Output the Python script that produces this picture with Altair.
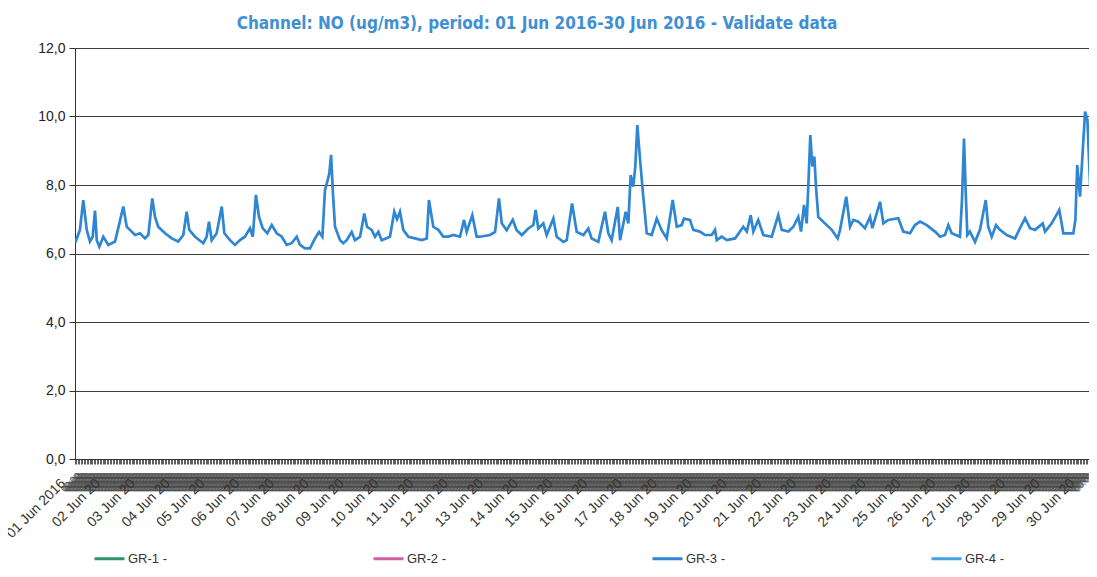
import altair as alt
import pandas as pd

# ---- data (hours since 01 Jun 2016 00:00, NO in ug/m3) ----
hours = [
    0, 3.4, 5.7, 8.1, 10.3, 12.2, 13.8, 15.0, 16.8, 19.5, 23.0,
    27.6, 30.6, 33.3, 35.7, 37.9, 41.4, 44.8,
    48.3, 50.6, 53.3, 55.2, 57.4, 62.1, 66.7, 71.2,
    74.7, 77.0, 78.8, 82.8, 88.5, 90.8, 92.4, 94.3, 97.7, 101.2, 103.0, 106.9, 110.3, 113.8,
    117.2, 120.7, 122.6, 124.8, 126.9, 129.4, 132.6, 135.7, 139.1,
    142.6, 146.0, 149.4, 152.9, 155.2, 158.6, 162.1, 165.5, 168.3, 170.6,
    172.4, 174.3, 175.4, 176.6, 177.9, 179.3, 182.8, 185.0, 187.4, 190.8, 193.1,
    196.6, 199.5, 201.4, 204.6, 206.9, 209.2, 211.5, 217.2, 220.2, 222.1, 224.1, 226.4, 229.9, 234.5, 239.1,
    242.6, 244.1, 247.1, 250.6, 254.0, 257.4, 260.9, 265.5, 268.3, 270.1, 274.0, 277.0, 279.3,
    286.2, 289.7, 292.4, 294.3, 297.7, 301.9, 304.6, 308.1, 312.6, 316.1, 317.7, 319.5, 323.0, 325.3, 329.9, 332.2,
    336.8, 339.1, 342.8, 346.0, 350.6, 354.0, 356.3, 360.9, 365.5, 367.8, 370.1, 374.3, 375.9, 379.8, 381.6,
    383.2, 385.0, 386.4, 387.8, 389.7, 391.9, 394.3, 397.7, 401.2, 404.6, 408.1, 412.2, 415.0, 418.4, 420.0,
    424.1, 426.4, 431.0, 434.5, 439.1, 441.4, 442.6, 446.0, 449.5, 455.2, 460.9, 463.3, 466.0, 467.8,
    471.2, 474.7, 480.5, 485.0, 487.4, 492.0, 495.4, 498.8, 500.7, 502.8, 504.6, 505.7, 507.1, 508.5,
    509.9, 511.0, 512.6, 517.2, 521.9, 526.0, 527.6, 531.9, 534.5, 536.8, 540.2, 544.8, 548.3, 549.9,
    555.2, 557.5, 560.9, 567.8, 571.2, 575.9, 579.3, 582.8, 587.4, 593.1, 596.6, 600.0, 602.3, 604.6,
    610.3, 611.7, 613.1, 614.3, 615.4, 617.2, 620.7, 624.1, 628.1, 629.8, 632.2, 635.2, 637.9, 642.6,
    648.3, 651.7, 655.2, 658.6, 662.1, 667.4, 669.0, 673.6, 678.8, 681.6, 685.0, 688.5, 689.9, 691.2,
    693.1, 696.6, 698.2, 700.0, 701.6, 704.6,
]
no_values = [
    6.30, 6.69, 7.56, 6.69, 6.35, 6.49, 7.25, 6.39, 6.20, 6.49, 6.25,
    6.35, 6.88, 7.37, 6.78, 6.69, 6.54, 6.59,
    6.44, 6.54, 7.61, 7.07, 6.78, 6.59, 6.44, 6.35,
    6.54, 7.22, 6.69, 6.49, 6.30, 6.49, 6.93, 6.39, 6.59, 7.37, 6.59, 6.39, 6.25, 6.39,
    6.49, 6.74, 6.49, 7.71, 7.07, 6.74, 6.59, 6.83, 6.59,
    6.49, 6.25, 6.30, 6.49, 6.25, 6.15, 6.15, 6.44, 6.63, 6.49,
    7.85, 8.15, 8.34, 8.88, 7.75, 6.78, 6.39, 6.30, 6.39, 6.63, 6.39,
    6.49, 7.17, 6.78, 6.69, 6.49, 6.63, 6.39, 6.49, 7.22, 7.00, 7.22, 6.69, 6.49, 6.44, 6.39,
    6.44, 7.56, 6.78, 6.69, 6.49, 6.49, 6.54, 6.49, 6.98, 6.63, 7.12, 6.49, 6.49,
    6.54, 6.63, 7.61, 6.88, 6.68, 6.98, 6.68, 6.54, 6.73, 6.83, 7.27, 6.73, 6.88, 6.54, 7.02, 6.49,
    6.34, 6.39, 7.46, 6.63, 6.54, 6.73, 6.44, 6.34, 7.22, 6.59, 6.39, 7.36, 6.39, 7.22, 6.88,
    8.29, 7.95, 8.54, 9.75, 8.73, 7.66, 6.59, 6.54, 7.02, 6.68, 6.44, 7.56, 6.78, 6.83, 7.02,
    6.98, 6.69, 6.64, 6.54, 6.54, 6.69, 6.39, 6.49, 6.39, 6.44, 6.78, 6.64, 7.12, 6.64,
    6.98, 6.54, 6.49, 7.12, 6.69, 6.64, 6.78, 7.07, 6.64, 7.42, 6.88, 7.95, 9.46, 8.54,
    8.83, 7.95, 7.07, 6.88, 6.69, 6.44, 6.69, 7.66, 6.78, 6.98, 6.93, 6.74, 7.07, 6.74,
    7.51, 6.88, 6.98, 7.03, 6.64, 6.59, 6.83, 6.93, 6.83, 6.64, 6.49, 6.54, 6.83, 6.59,
    6.49, 7.56, 9.36, 7.76, 6.54, 6.64, 6.34, 6.69, 7.56, 6.78, 6.49, 6.83, 6.69, 6.54,
    6.44, 6.74, 7.03, 6.74, 6.69, 6.88, 6.64, 6.88, 7.27, 6.59, 6.59, 6.59, 6.98, 8.58,
    7.66, 10.14, 9.90, 8.05, 6.88, 6.73,
]
series_names = ["GR-1 -", "GR-2 -", "GR-3 -", "GR-4 -"]
series_colors = ["#2f9468", "#d0609e", "#2f86d2", "#42a2e2"]
y_ticks = [0, 2, 4, 6, 8, 10, 12]
day_ticks = [24 * d for d in range(30)]
hour_ticks = list(range(0, 700))
x_end = 699.3

df = pd.DataFrame({"hour": hours, "value": no_values, "series": "GR-3 -"})

x_scale = alt.Scale(domain=[0, x_end], nice=False, zero=False)
y_scale = alt.Scale(domain=[0, 12], nice=False)

y_axis = alt.Axis(
    values=y_ticks, title=None, grid=True, gridColor="#3c3c3c", gridWidth=1,
    domain=True, domainColor="#333333", tickColor="#333333", tickSize=6,
    labelFont="Liberation Sans", labelFontSize=14, labelColor="#222222", labelPadding=4,
    labelExpr="replace(format(datum.value, '.1f'), '.', ',')",
)

day_axis = alt.Axis(
    orient="bottom",
    values=day_ticks, title=None, grid=False, ticks=False, domain=True,
    domainColor="#333333", labelAngle=315, labelAlign="right", labelBaseline="top",
    labelOffset=-17, labelPadding=17, labelFont="Liberation Sans", labelFontSize=14,
    labelColor="#333333", labelOverlap=False, labelBound=False, labelFlush=False,
    labelExpr="(datum.value/24 + 1 < 10 ? '0' : '') + (datum.value/24 + 1) + ' Jun ' + (datum.value == 0 ? '2016' : '20')",
)

hour_axis = alt.Axis(
    orient="bottom",
    values=hour_ticks, title=None, grid=False, ticks=True, tickSize=5, tickWidth=0.8,
    tickColor="#333333", domain=False, labelAngle=315, labelAlign="right",
    labelBaseline="top", labelPadding=7, labelFont="Liberation Sans", labelFontSize=9,
    labelColor="#4a4a4a", labelOverlap=False, labelBound=False, labelFlush=False,
    labelExpr="'00:00'",
)

hidden = alt.Chart(df).mark_line(strokeOpacity=0).encode(
    x=alt.X("hour:Q", scale=x_scale, axis=hour_axis),
    y=alt.Y("value:Q", scale=y_scale, axis=y_axis),
)

line = alt.Chart(df).mark_line(strokeWidth=2.7, clip=True).encode(
    x=alt.X("hour:Q", scale=x_scale, axis=day_axis),
    y=alt.Y("value:Q", scale=y_scale, axis=y_axis),
    color=alt.Color(
        "series:N",
        scale=alt.Scale(domain=series_names, range=series_colors),
        legend=alt.Legend(
            title=None, orient="none", legendX=18, legendY=494, direction="horizontal",
            columns=4, columnPadding=200, symbolType="stroke", symbolSize=900,
            symbolStrokeWidth=3, labelFont="Liberation Sans", labelFontSize=13,
            labelColor="#333333", labelOffset=2,
        ),
    ),
)

chart = (
    alt.layer(hidden, line)
    .resolve_axis(x="independent")
    .properties(
        width=1014,
        height=411,
        autosize=alt.AutoSizeParams(type="none"),
        padding={"left": 67, "top": 40, "right": 0, "bottom": 105},
        title=alt.TitleParams(
            text="Channel: NO (ug/m3), period: 01 Jun 2016-30 Jun 2016 - Validate data",
            font="DejaVu Sans Condensed", fontSize=17, fontWeight="bold",
            color="#3f8fd2", anchor="middle", dx=-45, offset=8,
        ),
    )
    .configure_view(stroke=None)
    .configure(background="white")
)

chart.save("out.html", embed_options={"renderer": "svg", "actions": False})
